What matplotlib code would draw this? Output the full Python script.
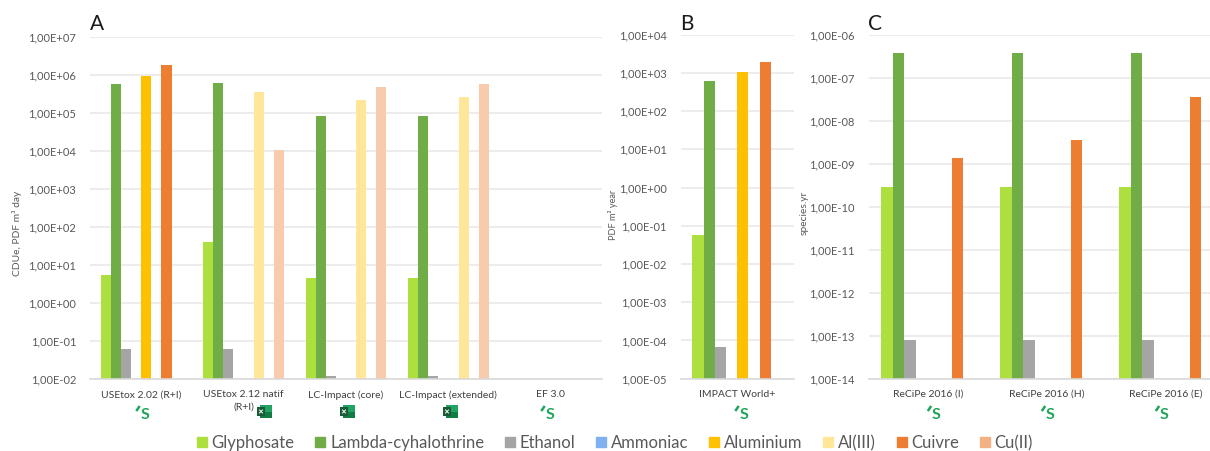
import numpy as np
import matplotlib
matplotlib.use("Agg")
import matplotlib.pyplot as plt
from matplotlib.patches import Patch, Rectangle
from matplotlib.ticker import FuncFormatter

plt.rcParams["font.family"] = ["Lato", "DejaVu Sans"]

# Series order and colours
series = ["Glyphosate", "Lambda-cyhalothrine", "Ethanol", "Ammoniac",
          "Aluminium", "Al(III)", "Cuivre", "Cu(II)"]
colors = ["#addf3f", "#70ad47", "#a5a5a5", "#7fb0f0",
          "#ffc000", "#ffe699", "#ed7d31", "#f8cbad"]
legend_colors = ["#addf3f", "#70ad47", "#a5a5a5", "#7fb0f0",
                 "#ffc000", "#ffe699", "#ed7d31", "#f4b183"]

# Panel A
cats_a = ["USEtox 2.02 (R+I)", "USEtox 2.12 natif\n(R+I)", "LC-Impact (core)",
          "LC-Impact (extended)", "EF 3.0"]
gly_a = [5.3, 39, 4.5, 4.5, np.nan]
lam_a = [5.6e5, 5.9e5, 8.2e4, 8.2e4, np.nan]
eth_a = [0.06, 0.06, 0.012, 0.012, np.nan]
amm_a = [np.nan, np.nan, np.nan, np.nan, np.nan]
alu_a = [9.3e5, np.nan, np.nan, np.nan, np.nan]
al3_a = [np.nan, 3.4e5, 2.1e5, 2.5e5, np.nan]
cui_a = [1.8e6, np.nan, np.nan, np.nan, np.nan]
cu2_a = [np.nan, 1.05e4, 4.7e5, 5.6e5, np.nan]

# Panel B
cats_b = ["IMPACT World+"]
gly_b = [0.057]
lam_b = [610]
eth_b = [6.6e-5]
amm_b = [np.nan]
alu_b = [1050]
al3_b = [np.nan]
cui_b = [1960]
cu2_b = [np.nan]

# Panel C
cats_c = ["ReCiPe 2016 (I)", "ReCiPe 2016 (H)", "ReCiPe 2016 (E)"]
gly_c = [2.9e-10, 2.9e-10, 2.9e-10]
lam_c = [3.8e-7, 3.8e-7, 3.8e-7]
eth_c = [8e-14, 8e-14, 8e-14]
amm_c = [np.nan, np.nan, np.nan]
alu_c = [np.nan, np.nan, np.nan]
al3_c = [np.nan, np.nan, np.nan]
cui_c = [1.4e-9, 3.7e-9, 3.7e-8]
cu2_c = [np.nan, np.nan, np.nan]

W, H = 1210, 451
TXT = "#595959"
fig = plt.figure(figsize=(W / 100, H / 100), dpi=100)


def box(x0, y0, x1, y1):
    # pixel box (y going down) to figure fractions
    return [x0 / W, 1 - y1 / H, (x1 - x0) / W, (y1 - y0) / H]


def panel(rect, cats, values, ymin, ymax):
    ax = fig.add_axes(box(*rect))
    x = np.arange(len(cats))
    group = 0.79
    w = group / len(series)
    for i, vals in enumerate(values):
        ax.bar(x - group / 2 + w * (i + 0.5), vals, w, color=colors[i], log=True)
    ax.set_xlim(-0.5, len(cats) - 0.5)
    ax.set_ylim(ymin, ymax)
    ax.set_yticks(10.0 ** np.arange(np.log10(ymin), np.log10(ymax) + 1))
    ax.minorticks_off()
    ax.yaxis.set_major_formatter(FuncFormatter(lambda v, p: f"{v:.2E}".replace(".", ",")))
    ax.set_xticks(x)
    ax.set_xticklabels(cats, fontsize=7.5, color="#404040")
    ax.tick_params(axis="x", length=0, pad=8)
    ax.tick_params(axis="y", length=0, pad=10, labelsize=8, labelcolor=TXT)
    for lab in ax.get_xticklabels():
        lab.set_linespacing(1.5)
    ax.grid(axis="y", color="#ececec", lw=1.5)
    ax.set_axisbelow(True)
    for s in ["top", "right", "left"]:
        ax.spines[s].set_visible(False)
    ax.spines["bottom"].set_color("#d9d9d9")
    ax.spines["bottom"].set_linewidth(1.2)
    return ax


panel((90, 36.5, 602, 379), cats_a,
      [gly_a, lam_a, eth_a, amm_a, alu_a, al3_a, cui_a, cu2_a], 1e-2, 1e7)
panel((680.5, 34.7, 794, 378.7), cats_b,
      [gly_b, lam_b, eth_b, amm_b, alu_b, al3_b, cui_b, cu2_b], 1e-5, 1e4)
panel((868.5, 35.3, 1225.5, 378.7), cats_c,
      [gly_c, lam_c, eth_c, amm_c, alu_c, al3_c, cui_c, cu2_c], 1e-14, 1e-6)

# overlay in pixel coordinates for labels and logos
ov = fig.add_axes([0, 0, 1, 1], facecolor="none")
ov.set_xlim(0, W)
ov.set_ylim(H, 0)
ov.axis("off")

for label, px in [("A", 97), ("B", 686.5), ("C", 875)]:
    ov.text(px, 24, label, fontsize=15, color="#1a1a1a", ha="center", va="center")

ov.text(17, 233, "CDUe, PDF m³ day", rotation=90, fontsize=7.4, color=TXT, ha="center", va="center")
ov.text(612.5, 215, "PDF m² year", rotation=90, fontsize=6.6, color=TXT, ha="center", va="center")
ov.text(804, 213, "species.yr", rotation=90, fontsize=7.4, color=TXT, ha="center", va="center")


def s_logo(px):
    ov.text(px + 1, 415, "S", fontsize=11.5, fontweight="bold", color="#1fa65a", ha="center", va="center")
    ov.plot([px - 7, px - 5], [410, 407], color="#1fa65a", lw=1.8)


def xl_logo(px):
    ov.add_patch(Rectangle((px - 5, 405), 12, 6.5, color="#21a366", lw=0))
    ov.add_patch(Rectangle((px - 5, 411.5), 12, 6.5, color="#107c41", lw=0))
    ov.add_patch(Rectangle((px - 8, 407), 8, 9, color="#185c37", lw=0))
    # small x drawn with strokes
    ov.plot([px - 5.5, px - 2.5], [410, 413], color="white", lw=0.7)
    ov.plot([px - 5.5, px - 2.5], [413, 410], color="white", lw=0.7)


for px in [144, 549, 743, 935.5, 1049.5, 1163.5]:
    s_logo(px)
for px in [265, 348, 451]:
    xl_logo(px)

handles = [Patch(color=c, label=s) for c, s in zip(legend_colors, series)]
fig.legend(handles=handles, ncol=8, loc="center", bbox_to_anchor=(615 / W, 1 - 443 / H),
           frameon=False, fontsize=12, labelcolor=TXT, handlelength=0.6, handleheight=0.6,
           handletextpad=0.28, columnspacing=1.25, borderpad=0)

fig.savefig("out.png", dpi=100)
